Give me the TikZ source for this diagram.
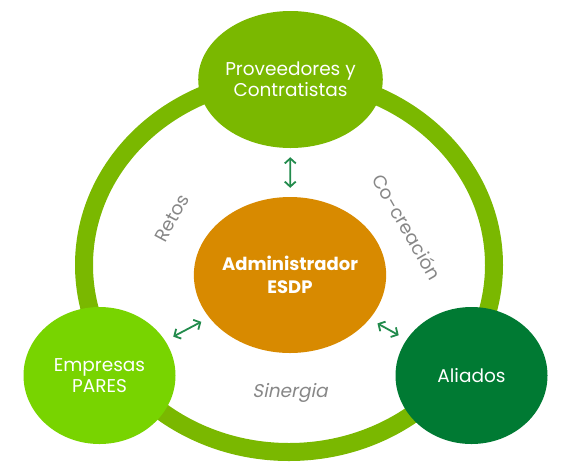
\documentclass[tikz,border=0pt]{standalone}
\usepackage{fontspec}
\setmainfont{Poppins}
\newfontfamily\slantfont[FakeSlant=0.2]{Poppins}
\usetikzlibrary{arrows.meta,shapes.geometric}
\definecolor{ringgreen}{RGB}{122,184,0}
\definecolor{limegreen}{RGB}{120,212,0}
\definecolor{darkgreen}{RGB}{0,122,51}
\definecolor{esdporange}{RGB}{216,138,0}
\definecolor{arrowgreen}{RGB}{34,139,76}
\definecolor{labelgray}{RGB}{135,135,135}
\begin{document}
\begin{tikzpicture}[x=1pt,y=-1pt,
    actor/.style={ellipse, minimum width=152pt, minimum height=137pt, inner sep=0pt, text=white, align=center, font=\fontsize{18.5}{21}\selectfont},
    link/.style={arrowgreen, line width=1.8pt, {Straight Barb[length=5pt,width=11pt]}-{Straight Barb[length=5pt,width=11pt]}, shorten >=9pt, shorten <=9pt},
    tag/.style={labelgray, font=\fontsize{18.5}{20}\selectfont}]
            \useasboundingbox (0,0) rectangle (567,475);
            \draw[ringgreen, line width=18pt] (289,265) ellipse [x radius=205, y radius=187];
            \node[actor, fill=ringgreen] (prov) at (290.5,79.5) {Proveedores y\\Contratistas};
            \node[actor, fill=limegreen] (pares) at (99.5,375.5) {Empresas\\PARES};
            \node[actor, fill=darkgreen] (aliados) at (471.5,375.5) {Aliados};
            \node[ellipse, fill=esdporange, minimum width=176pt, minimum height=156pt, inner sep=0pt, text=white, align=center, font=\bfseries\fontsize{18}{23}\selectfont] (admin) at (290,275) {Administrador\\ESDP};
            \draw[link] (prov) -- (admin);
            \draw[link] (pares) -- (admin);
            \draw[link] (aliados) -- (admin);
            \node[tag, rotate=62] (retos) at (172,218) {Retos};
            \node[tag, rotate=-60] (cocrea) at (407,227) {Co-creación};
            \node[tag, font=\slantfont\fontsize{18.5}{20}\selectfont] (sinergia) at (290,393) {Sinergia};
        \end{tikzpicture}
\end{document}
